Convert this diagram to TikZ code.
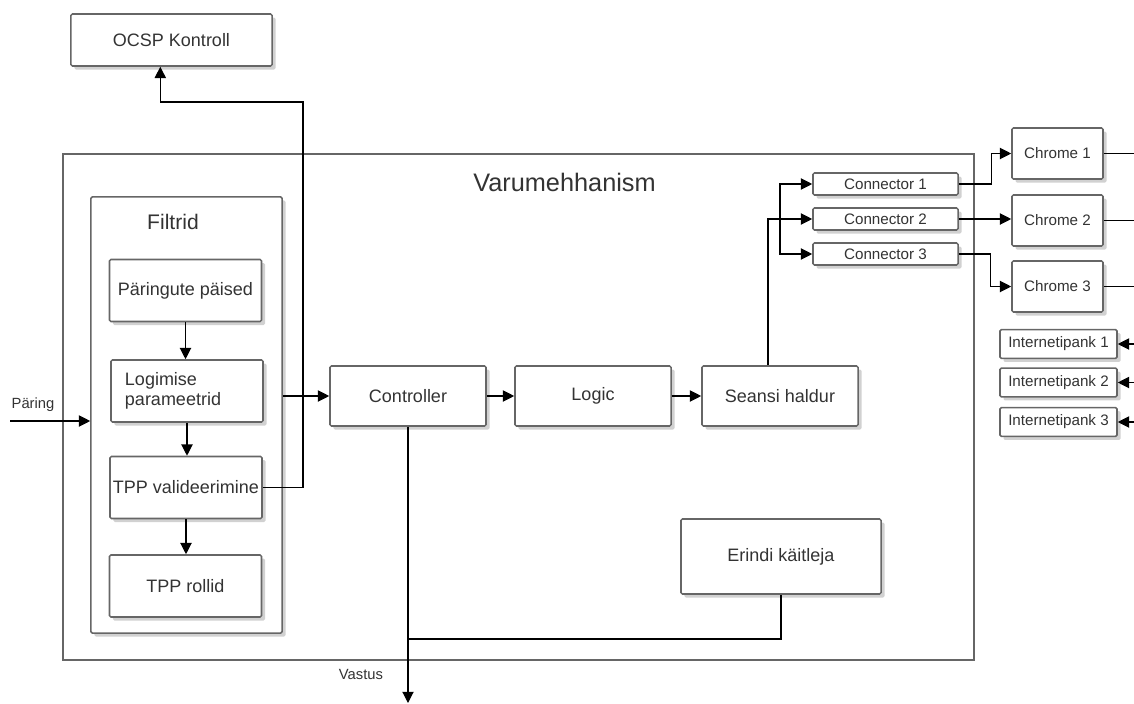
\documentclass[tikz,border=0pt]{standalone}
\usepackage{fontspec}
\setmainfont{Liberation Sans}
\usetikzlibrary{arrows.meta}
\usetikzlibrary{shadows}

\begin{document}
\begin{tikzpicture}[x=0.025cm,y=-0.025cm,>={Triangle[length=8pt,width=8pt]},
	box/.style={draw=black!60, line width=1.1pt, fill=white, rounded corners=1pt, inner sep=1pt, text=black!80,
		drop shadow={shadow xshift=2.5pt, shadow yshift=-2.5pt, opacity=0.18, fill=black}},
	main node/.style={box, minimum width=3.9cm, minimum height=1.5cm, font=\fontsize{12.8}{15}\selectfont},
	filter node/.style={box, minimum width=3.8cm, minimum height=1.55cm, font=\fontsize{12.8}{14.5}\selectfont},
	conn node/.style={box, minimum width=3.625cm, minimum height=0.55cm, font=\fontsize{10.8}{12}\selectfont},
	chrome node/.style={box, minimum width=2.275cm, minimum height=1.275cm, font=\fontsize{10.8}{12}\selectfont},
	bank node/.style={box, minimum width=2.925cm, minimum height=0.72cm, font=\fontsize{10.8}{12}\selectfont},
	plain/.style={text=black!80, inner sep=0pt},
	wire/.style={draw=black, line width=0.8pt}]
	
	\useasboundingbox (0,0) rectangle (1134,704);
	
	% Containers
	\node[draw=black!60, line width=1.1pt, minimum width=22.775cm, minimum height=12.65cm] (varu) at (518.5,407) {};
	\node[plain, font=\fontsize{18}{21}\selectfont] (varutitle) at (564.5,182) {Varumehhanism};
	\node[box, minimum width=4.775cm, minimum height=10.9cm] (filtrid) at (186.5,415) {};
	\node[plain, font=\fontsize{15}{18}\selectfont] (filtridtitle) at (173,222) {Filtrid};
	
	% Nodes
	\node[box, minimum width=5.025cm, minimum height=1.3cm, font=\fontsize{12.8}{15}\selectfont] (ocsp) at (171.5,40) {OCSP Kontroll};
	
	\node[filter node] (paised) at (185.5,290.5) {Päringute päised};
	\node[filter node, text width=3.1cm, align=left] (logimise) at (187,391) {Logimise\\parameetrid};
	\node[filter node] (valid) at (186,487.5) {TPP valideerimine};
	\node[filter node] (rollid) at (185.5,586) {TPP rollid};
	
	\node[main node] (controller) at (408,396) {Controller};
	\node[main node] (logic) at (593,396) {Logic};
	\node[main node] (seansi) at (780,396) {Seansi haldur};
	\node[main node, minimum width=5cm, minimum height=1.875cm] (erindi) at (781,556.5) {Erindi käitleja};
	
	\node[conn node] (conn1) at (885.5,184) {Connector 1};
	\node[conn node] (conn2) at (885.5,219) {Connector 2};
	\node[conn node] (conn3) at (885.5,254) {Connector 3};
	
	\node[chrome node] (chrome1) at (1057.5,153.5) {Chrome 1};
	\node[chrome node] (chrome2) at (1057.5,220.5) {Chrome 2};
	\node[chrome node] (chrome3) at (1057.5,286.5) {Chrome 3};
	
	\node[bank node] (bank1) at (1058.5,344) {Internetipank 1};
	\node[bank node] (bank2) at (1058.5,382.5) {Internetipank 2};
	\node[bank node] (bank3) at (1058.5,422) {Internetipank 3};
	
	\node[plain, font=\fontsize{10.5}{12}\selectfont] (paring) at (33,405) {Päring};
	\node[plain, font=\fontsize{10.5}{12}\selectfont] (vastus) at (361,674) {Vastus};
	
	\coordinate (pin) at (10,421);
	\coordinate (kink) at (303,102);
	\coordinate (split) at (780,219);
	\coordinate (join) at (408,639);
	\coordinate (out) at (408,703);
	
	% Connectors
	\draw[->, wire] (pin) -- (pin -| filtrid.west);
	\draw[->, wire] (filtrid.east |- controller.west) -- (controller.west);
	\draw[->, wire] (paised.south) -- (paised.south |- logimise.north);
	\draw[->, wire] (logimise.south) -- (logimise.south |- valid.north);
	\draw[->, wire] (valid.south) -- (valid.south |- rollid.north);
	\draw[->, wire] (valid.east) -| (kink) -| ([xshift=-0.28cm]ocsp.south);
	
	\draw[->, wire] (controller) -- (logic);
	\draw[->, wire] (logic) -- (seansi);
	\draw[->, wire] ([xshift=-0.3cm]seansi.north) |- (conn2.west);
	\draw[->, wire] (split) |- (conn1.west);
	\draw[->, wire] (split) |- (conn3.west);
	
	\draw[->, wire] (conn1.east) -- ++(33,0) |- (chrome1.west);
	\draw[->, wire] (conn2.east) -- (conn2.east -| chrome2.west);
	\draw[->, wire] (conn3.east) -- ++(32,0) |- (chrome3.west);
	
	\draw[wire] (chrome1.east) -- ++(31,0);
	\draw[wire] (chrome2.east) -- ++(31,0);
	\draw[wire] (chrome3.east) -- ++(31,0);
	
	\draw[<-, wire] (bank1.east) -- ++(17,0);
	\draw[<-, wire] (bank2.east) -- ++(17,0);
	\draw[<-, wire] (bank3.east) -- ++(17,0);
	
	\draw[->, wire] (controller.south) -- (out);
	\draw[wire] (erindi.south) |- (join);
	
\end{tikzpicture}
\end{document}
